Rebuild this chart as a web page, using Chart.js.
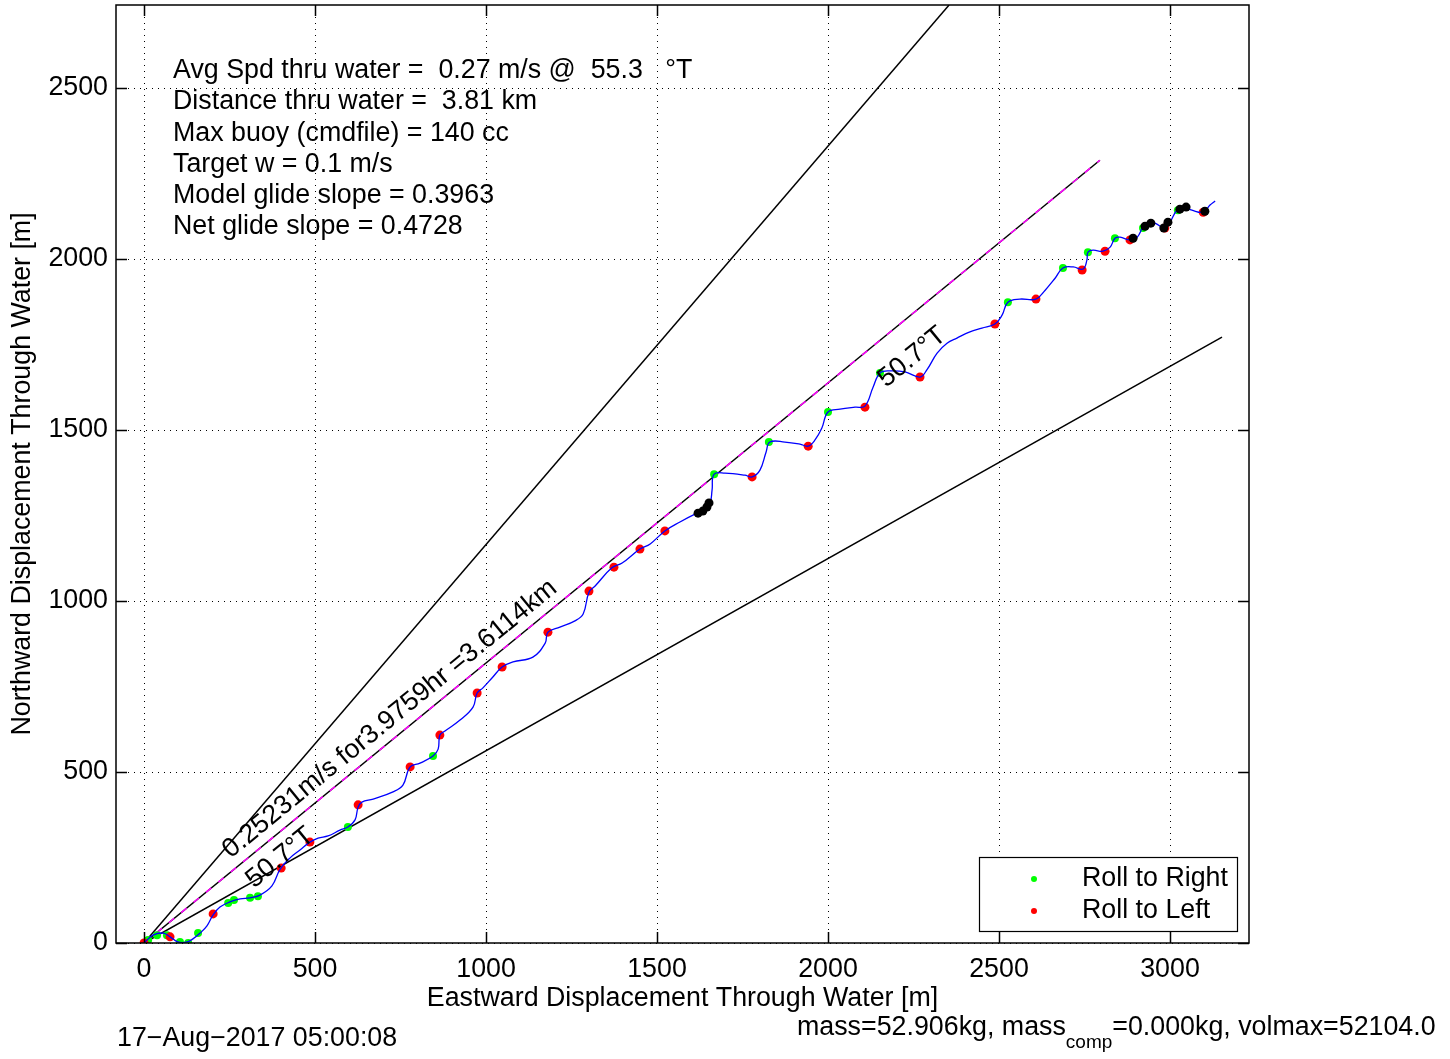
<!DOCTYPE html>
<html lang="en">
<head>
<meta charset="UTF-8">
<title>Displacement Through Water</title>
<script src="https://cdn.jsdelivr.net/npm/chart.js"></script>
<style>
  body { margin: 0; background: #fff; }
  .wrap { position: relative; width: 1450px; height: 1059px; }
</style>
</head>
<body>
<div class="wrap"><canvas id="track"></canvas></div>
<script>
// glider track through water, metres east / north of start
const trackE = [0, 26, 56, 76, 99, 126, 143, 164, 184, 202, 222, 251, 281, 310, 339, 374, 398, 427, 456, 485,
  509, 538, 573, 596, 617, 626, 637, 670, 728, 757, 778, 807, 845, 860, 865, 880, 924, 962, 974, 991,
  1020, 1047, 1079, 1137, 1173, 1181, 1216, 1260, 1284, 1301, 1319, 1368, 1398, 1450, 1480, 1523, 1567, 1611, 1640, 1655,
  1661, 1667, 1699, 1757, 1778, 1801, 1819, 1830, 1874, 1918, 1942, 1962, 1982, 2000, 2035, 2079, 2108, 2132, 2152, 2181,
  2225, 2269, 2289, 2319, 2348, 2377, 2415, 2450, 2488, 2509, 2526, 2561, 2608, 2635, 2664, 2687, 2717, 2746, 2757, 2760,
  2775, 2804, 2825, 2839, 2854, 2883, 2904, 2921, 2936, 2956, 2985, 3000, 3018, 3038, 3064, 3097, 3117, 3132];
const trackN = [0, 23, 29, 18, 3, 3, 12, 29, 50, 82, 105, 120, 129, 132, 140, 167, 216, 249, 272, 295,
  307, 313, 330, 339, 360, 398, 412, 421, 442, 462, 515, 526, 547, 567, 608, 620, 652, 690, 731, 746,
  778, 807, 822, 836, 877, 909, 924, 942, 962, 1026, 1044, 1097, 1111, 1152, 1167, 1205, 1231, 1254, 1266, 1284,
  1325, 1371, 1374, 1368, 1363, 1383, 1436, 1465, 1465, 1459, 1453, 1471, 1506, 1553, 1561, 1567, 1570, 1626, 1667, 1673,
  1670, 1655, 1676, 1725, 1754, 1769, 1787, 1798, 1810, 1836, 1874, 1883, 1883, 1909, 1944, 1974, 1977, 1971, 1997, 2020,
  2026, 2023, 2035, 2061, 2064, 2056, 2064, 2094, 2108, 2105, 2091, 2108, 2140, 2152, 2143, 2137, 2158, 2170];

// roll events
const rightE = [12, 38, 67, 105, 129, 158, 246, 263, 310, 333, 596, 845, 1667, 1827, 2000, 2152, 2526, 2687, 2760, 2839, 2921, 3023];
const rightN = [9, 23, 23, 3, 0, 29, 117, 126, 132, 137, 339, 547, 1371, 1465, 1553, 1667, 1874, 1974, 2020, 2061, 2091, 2143];
const leftE = [0, 76, 202, 401, 485, 626, 778, 865, 974, 1047, 1181, 1301, 1374, 1450, 1523, 1778, 1942, 2108, 2269, 2488, 2608, 2743, 2810, 2883, 2985, 3097];
const leftN = [0, 18, 85, 219, 295, 404, 515, 608, 731, 807, 909, 1029, 1099, 1152, 1205, 1363, 1453, 1567, 1655, 1810, 1883, 1968, 2023, 2056, 2091, 2137];
const blackE = [1620, 1634, 1646, 1652, 2892, 2927, 2944, 2982, 2994, 3029, 3047, 3102];
const blackN = [1257, 1263, 1275, 1287, 2061, 2096, 2105, 2091, 2108, 2146, 2152, 2140];

// rays from origin: 40.7, 50.7, 60.7 deg T
const rayE = [2354, 2795, 3152];
const rayN = [2743, 2289, 1772];

const xTicks = [0, 500, 1000, 1500, 2000, 2500, 3000];
const yTicks = [0, 500, 1000, 1500, 2000, 2500];

const infoLines = [
  'Avg Spd thru water =  0.27 m/s @  55.3   \u00B0T',
  'Distance thru water =  3.81 km',
  'Max buoy (cmdfile) = 140 cc',
  'Target w = 0.1 m/s',
  'Model glide slope = 0.3963',
  'Net glide slope = 0.4728'
];
const noteText = ['0.25231m/s for3.9759hr =3.6114km', '50.7\u00B0T', '50.7\u00B0T'];
const noteE = [719, 398, 2246];
const noteN = [655, 249, 1713];

const FONT = '"Liberation Sans", Arial, sans-serif';
const FS = 26.8;
Chart.defaults.font.family = FONT;
Chart.defaults.font.size = FS;
Chart.defaults.color = '#000';

const pts = (xs, ys) => xs.map((x, i) => ({ x, y: ys[i] }));
const rays = rayE.map((e, i) => [{ x: 0, y: 0 }, { x: e, y: rayN[i] }]);

const frame = {
  id: 'frame',
  afterDatasetsDraw(chart) {
    const { ctx, chartArea: a, scales: { x, y } } = chart;
    ctx.save();
    ctx.strokeStyle = '#000';
    ctx.lineWidth = 1.5;
    ctx.strokeRect(a.left, a.top, a.right - a.left, a.bottom - a.top);
    ctx.beginPath();
    xTicks.forEach(v => {
      const p = Math.round(x.getPixelForValue(v)) + 0.5;
      ctx.moveTo(p, a.bottom); ctx.lineTo(p, a.bottom - 11);
      ctx.moveTo(p, a.top); ctx.lineTo(p, a.top + 11);
    });
    yTicks.forEach(v => {
      const p = Math.round(y.getPixelForValue(v)) + 0.5;
      ctx.moveTo(a.left, p); ctx.lineTo(a.left + 11, p);
      ctx.moveTo(a.right, p); ctx.lineTo(a.right - 11, p);
    });
    ctx.stroke();
    ctx.restore();
  },
  afterDraw(chart) {
    const { ctx, scales: { x, y } } = chart;
    ctx.save();
    ctx.fillStyle = '#000';
    ctx.font = FS + 'px ' + FONT;
    ctx.textBaseline = 'middle';
    ctx.textAlign = 'left';
    infoLines.forEach((t, i) => ctx.fillText(t, 173, 71 + i * 31.1));

    // rotated notes, aligned with the 50.7 deg ray
    const ang = Math.atan2(y.getPixelForValue(rayN[1]) - y.getPixelForValue(0),
                           x.getPixelForValue(rayE[1]) - x.getPixelForValue(0));
    ctx.textAlign = 'center';
    noteText.forEach((t, i) => {
      ctx.save();
      ctx.translate(x.getPixelForValue(noteE[i]), y.getPixelForValue(noteN[i]));
      ctx.rotate(ang);
      ctx.fillText(t, 0, 0);
      ctx.restore();
    });

    // legend
    ctx.fillStyle = '#fff';
    ctx.fillRect(979, 857, 258, 74);
    ctx.strokeStyle = '#000';
    ctx.lineWidth = 1.2;
    ctx.strokeRect(979.5, 857.5, 258, 74);
    [['#00ff00', 'Roll to Right', 879], ['#ff0000', 'Roll to Left', 911]].forEach(([c, t, yy]) => {
      ctx.fillStyle = c;
      ctx.beginPath(); ctx.arc(1034, yy, 3, 0, Math.PI * 2); ctx.fill();
      ctx.fillStyle = '#000';
      ctx.textAlign = 'left';
      ctx.fillText(t, 1082, yy);
    });

    // footer
    ctx.fillText('17\u2212Aug\u22122017 05:00:08', 117, 1039);
    let cx = 797;
    const part1 = 'mass=52.906kg, mass';
    ctx.fillText(part1, cx, 1028);
    cx += ctx.measureText(part1).width;
    ctx.font = '19px ' + FONT;
    ctx.fillText('comp', cx, 1043);
    cx += ctx.measureText('comp').width;
    ctx.font = FS + 'px ' + FONT;
    ctx.fillText('=0.000kg, volmax=52104.0', cx, 1028);
    ctx.restore();
  }
};

const keepTicks = list => scale => {
  scale.ticks = list.map(v => ({ value: v }));
};

new Chart(document.getElementById('track'), {
  type: 'scatter',
  data: {
    datasets: [
      { data: rays[0], showLine: true, borderColor: '#000', borderWidth: 1.5, pointRadius: 0, order: 6 },
      { data: rays[1], showLine: true, borderColor: '#000', borderWidth: 1.5, pointRadius: 0, order: 6 },
      { data: rays[2], showLine: true, borderColor: '#000', borderWidth: 1.5, pointRadius: 0, order: 6 },
      { data: rays[1], showLine: true, borderColor: '#ff00ff', borderWidth: 1.5, borderDash: [7, 9], pointRadius: 0, order: 5 },
      { label: 'Roll to Right', data: pts(rightE, rightN), pointRadius: 4, pointBackgroundColor: '#00ff00', pointBorderWidth: 0, order: 4 },
      { label: 'Roll to Left', data: pts(leftE, leftN), pointRadius: 4.5, pointBackgroundColor: '#ff0000', pointBorderWidth: 0, order: 3 },
      { data: pts(trackE, trackN), showLine: true, borderColor: '#0000ff', borderWidth: 1.3, tension: 0.4, pointRadius: 0, order: 2 },
      { data: pts(blackE, blackN), pointRadius: 4.5, pointBackgroundColor: '#000', pointBorderWidth: 0, order: 1 }
    ]
  },
  options: {
    responsive: true,
    maintainAspectRatio: false,
    animation: false,
    layout: { padding: { top: 5, right: 201, left: 0, bottom: 0 } },
    plugins: { legend: { display: false }, tooltip: { enabled: false } },
    scales: {
      x: {
        type: 'linear', min: -82, max: 3231,
        afterBuildTicks: keepTicks(xTicks),
        afterFit: s => { s.height = 116; s.paddingLeft = 0; s.paddingRight = 0; },
        grid: { color: '#000', lineWidth: 1, drawTicks: false },
        border: { display: false, dash: [1, 5] },
        ticks: { padding: 11, callback: v => String(v) },
        title: { display: true, text: 'Eastward Displacement Through Water [m]', padding: { bottom: 44 } }
      },
      y: {
        type: 'linear', min: 0, max: 2743,
        afterBuildTicks: keepTicks(yTicks),
        afterFit: s => { s.width = 116; s.paddingTop = 0; s.paddingBottom = 0; },
        grid: { color: '#000', lineWidth: 1, drawTicks: false },
        border: { display: false, dash: [1, 5] },
        ticks: { padding: 8, callback: v => String(v) },
        title: { display: true, text: 'Northward Displacement Through Water [m]', padding: { top: 7 } }
      }
    }
  },
  plugins: [frame]
});
</script>
</body>
</html>
